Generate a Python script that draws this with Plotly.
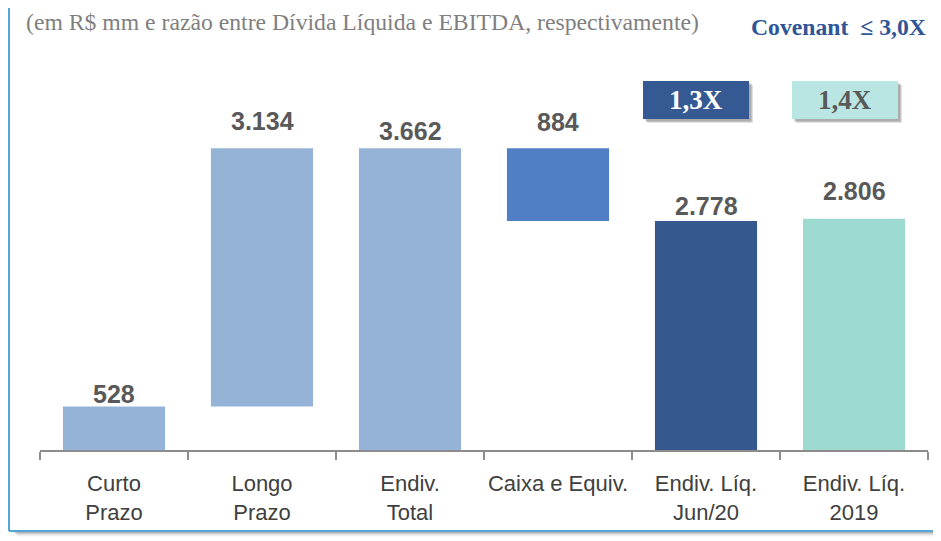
import plotly.graph_objects as go

# ---- data ----
categories = ["Curto<br>Prazo", "Longo<br>Prazo", "Endiv.<br>Total", "Caixa e Equiv.",
              "Endiv. Líq.<br>Jun/20", "Endiv. Líq.<br>2019"]
values = [528, 3134, 3662, 884, 2778, 2806]
value_labels = ["528", "3.134", "3.662", "884", "2.778", "2.806"]
leverage_labels = ["1,3X", "1,4X"]
title_text = "(em R$ mm e razão entre Dívida Líquida e EBITDA, respectivamente)"
covenant_text = "Covenant  ≤ 3,0X"

# waterfall bases derived from the values
bases = [0, values[0], 0, values[2] - values[3], 0, 0]
tops = [b + v for b, v in zip(bases, values)]

colors = ["#95B3D7", "#95B3D7", "#95B3D7", "#517FC6", "#35598F", "#9DDBD1"]
label_shift = [12, 27, 17, 26, 15, 28]

# page body margin offsets the figure by 8px
OFF = 8
W, H = 941 - OFF, 541 - OFF
ML, MR, MT, MB = 32, 13, 30, 91
PW, PH = W - ML - MR, H - MT - MB


def px(x):
    """screen x -> paper"""
    return (x - OFF - ML) / PW


def py(y):
    """screen y -> paper"""
    return (H - MB - (y - OFF)) / PH


SANS = "Liberation Sans, Arial, sans-serif"
SERIF = "Liberation Serif, Times New Roman, serif"

fig = go.Figure()
fig.add_trace(go.Bar(
    x=categories, y=values, base=bases,
    marker=dict(color=colors, line=dict(width=0)),
    width=0.69, hoverinfo="skip",
))

annotations = []
for c, t, lab, s in zip(categories, tops, value_labels, label_shift):
    annotations.append(dict(
        x=c, y=t, xref="x", yref="y", text=f"<b>{lab}</b>", showarrow=False,
        yanchor="middle", yshift=s,
        font=dict(family=SANS, size=25, color="#595959"),
    ))

annotations.append(dict(
    x=px(24), y=py(22), xref="paper", yref="paper", text=title_text,
    showarrow=False, xanchor="left", yanchor="middle",
    font=dict(family=SERIF, size=23.7, color="#7F7F7F"),
))
annotations.append(dict(
    x=px(928), y=py(27), xref="paper", yref="paper", text=f"<b>{covenant_text}</b>",
    showarrow=False, xanchor="right", yanchor="middle",
    font=dict(family=SERIF, size=23.7, color="#2F5597"),
))

shapes = []
# frame shadow (below and right)
for i, a in enumerate([0.16, 0.12, 0.09, 0.06, 0.04, 0.02]):
    d = i + 1
    shapes.append(dict(type="rect", xref="paper", yref="paper",
                       x0=px(12 + d), x1=px(934 + d), y0=py(531 + d), y1=py(4 + d),
                       line=dict(width=0), fillcolor=f"rgba(0,0,0,{a})", layer="below"))
# frame (white panel with light-blue border, top edge off-image)
shapes.append(dict(type="rect", xref="paper", yref="paper",
                   x0=px(9), x1=px(934), y0=py(531), y1=py(-10),
                   line=dict(width=0), fillcolor="white", layer="below"))
frame_line = dict(width=2, color="#55A5D8")
for (x0, y0, x1, y1) in [(9, -10, 9, 531), (934, -10, 934, 531), (9, 531, 934, 531)]:
    shapes.append(dict(type="line", xref="paper", yref="paper",
                       x0=px(x0), x1=px(x1), y0=py(y0), y1=py(y1),
                       line=frame_line, layer="below"))

# leverage boxes
boxes = [(643, 749, "#355A93", "white"), (792, 898, "#B9E6E3", "#595959")]
for (x0, x1, fc, tc), lab in zip(boxes, leverage_labels):
    for d, a in [(4, 0.12), (3, 0.12), (2, 0.12)]:
        shapes.append(dict(type="rect", xref="paper", yref="paper",
                           x0=px(x0 + d), x1=px(x1 + d), y0=py(119 + d), y1=py(81 + d),
                           line=dict(width=0), fillcolor=f"rgba(0,0,0,{a})"))
    shapes.append(dict(type="rect", xref="paper", yref="paper",
                       x0=px(x0), x1=px(x1), y0=py(119), y1=py(81),
                       line=dict(width=0), fillcolor=fc))
    annotations.append(dict(
        x=px((x0 + x1) / 2), y=py(100), xref="paper", yref="paper",
        text=f"<b>{lab}</b>", showarrow=False, xanchor="center", yanchor="middle",
        font=dict(family=SERIF, size=27, color=tc),
    ))

fig.update_layout(
    width=W, height=H,
    margin=dict(l=ML, r=MR, t=MT, b=MB, autoexpand=False),
    paper_bgcolor="white", plot_bgcolor="rgba(0,0,0,0)",
    showlegend=False,
    shapes=shapes, annotations=annotations,
    xaxis=dict(
        type="category", range=[-0.5, 5.5], automargin=False, tickangle=0,
        showline=True, linecolor="#8C8C8C", linewidth=2,
        ticks="outside", tickson="boundaries", ticklen=8, tickcolor="#8C8C8C", tickwidth=2,
        ticklabelstandoff=13,
        tickfont=dict(family=SANS, size=22, color="#404040"),
        showgrid=False, zeroline=False,
    ),
    yaxis=dict(range=[0, 5000], visible=False, showgrid=False, zeroline=False,
               automargin=False),
)

fig.write_html("out.html")
